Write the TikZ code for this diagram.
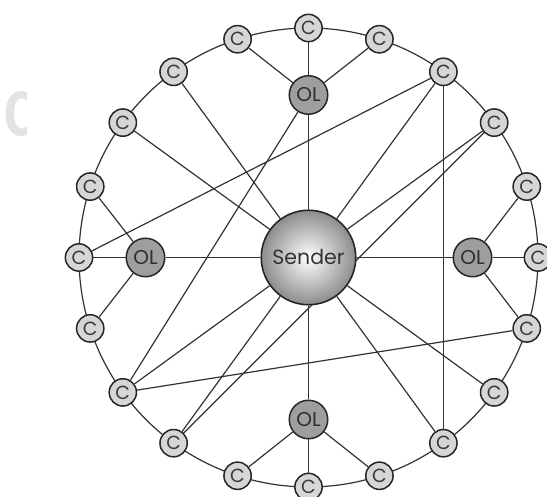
\documentclass[tikz,border=0pt]{standalone}
\usepackage{fontspec}
\setmainfont{Poppins}
\newfontfamily\ghostfont{Fira Sans}
\usetikzlibrary{calc}
\pgfdeclarelayer{bg}
\pgfsetlayers{bg,main}
\begin{document}
\begin{tikzpicture}[x=1pt,y=1pt,
  conn/.style={draw=black!80, line width=1.2pt},
  cnode/.style={circle, draw=black!85, line width=1.5pt, fill=black!16,
    minimum size=27.3pt, inner sep=0pt, text=black!78,
    font=\fontsize{19}{19}\selectfont},
  olnode/.style={circle, draw=black!85, line width=1.5pt, fill=black!38,
    minimum size=38.5pt, inner sep=0pt, text=black!82,
    font=\fontsize{20}{20}\selectfont},
  sendernode/.style={circle, draw=black!85, line width=1.6pt,
    inner color=white, outer color=black!45,
    minimum size=94.5pt, inner sep=0pt, text=black!80,
    font=\fontsize{20.5}{20.5}\selectfont}]
\useasboundingbox (0,0) rectangle (547,497);
\coordinate (ctr) at (308.5,239.5);
% faint letter at the left edge
\begin{scope}
  \clip (0,340) rectangle (26,420);
  \node[anchor=west, text=black!11, inner sep=0pt, xscale=0.8,
    font=\ghostfont\bfseries\fontsize{62}{62}\selectfont] (ghost) at (4,383) {C};
\end{scope}
% nodes
\node[sendernode] (snd) at (ctr) {Sender};
\foreach \a in {0,18,...,342}{
  \node[cnode] (c\a) at ($(ctr)+(\a:229.5)$) {C};
}
\node[olnode] (olT) at ($(ctr)+(90:162.5)$) {OL};
\node[olnode] (olB) at ($(ctr)+(270:162)$) {OL};
\node[olnode] (olL) at ($(ctr)+(180:163)$) {OL};
\node[olnode] (olR) at ($(ctr)+(0:164)$) {OL};
% connectors
\begin{pgfonlayer}{bg}
  \draw[conn] (ctr) circle[radius=229.5];
  \foreach \t in {c90,c72,c108,snd,c216} \draw[conn] (olT) -- (\t);
  \foreach \t in {c0,c18,c342,snd} \draw[conn] (olR) -- (\t);
  \foreach \t in {c270,c288,c252,snd} \draw[conn] (olB) -- (\t);
  \foreach \t in {c180,c162,c198,snd} \draw[conn] (olL) -- (\t);
  \foreach \t in {c126,c144,c54,c36,c324,c306,c234,c216} \draw[conn] (snd) -- (\t);
  \draw[conn] (c180) -- (c54);
  \draw[conn] (c54) -- (c306);
  \draw[conn] (c36.center) -- (c234.center);
  \draw[conn] (c216) -- (c342);
\end{pgfonlayer}
\end{tikzpicture}
\end{document}
